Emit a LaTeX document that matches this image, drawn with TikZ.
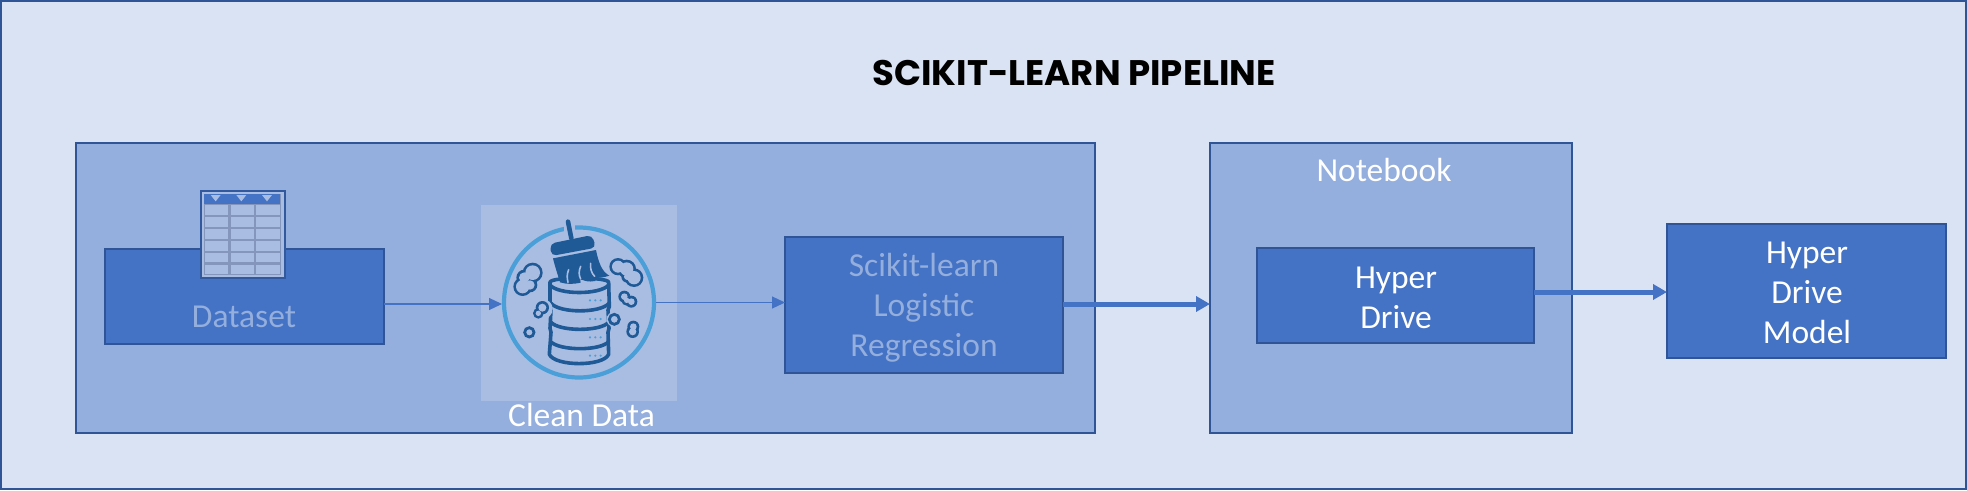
\documentclass[tikz,border=0pt]{standalone}
\usepackage{fontspec}
\setmainfont{Carlito}
\newfontfamily\titlefont{Poppins}
\usetikzlibrary{arrows.meta}
\definecolor{pagebg}{HTML}{DAE3F3}
\definecolor{panel}{HTML}{94AEDD}
\definecolor{boxfill}{HTML}{4472C4}
\definecolor{edge}{HTML}{2F5597}
\definecolor{dimtext}{HTML}{94AEDD}
\definecolor{lightsq}{HTML}{A9BDE2}
\definecolor{icondark}{HTML}{1F5A96}
\definecolor{iconring}{HTML}{4A9FD8}
\definecolor{gridline}{HTML}{8496BC}
\tikzset{
  x=1pt,y=-1pt,
  frame/.style={draw=edge,line width=2pt,fill=panel,inner sep=0pt,outer sep=0pt},
  bluebox/.style={draw=edge,line width=2pt,fill=boxfill,inner sep=0pt,outer sep=0pt},
  boxtext/.style={inner sep=0pt,align=center,font=\fontsize{33.5}{40}\selectfont},
  caption/.style={inner sep=0pt,font=\fontsize{33.5}{40}\selectfont,anchor=base},
  thinarrow/.style={draw=boxfill,line width=1.2pt,-{Triangle[length=13pt,width=12pt]}},
  thickarrow/.style={draw=boxfill,line width=5pt,-{Triangle[length=14pt,width=15pt]}},
  dbstroke/.style={draw=icondark,line width=3.6pt,line cap=round,line join=round},
}
% a bumpy dirt cloud: dark discs, then light discs on top, one list of x/y/r
\newcommand{\dirtcloud}[1]{%
  \foreach \cx/\cy/\cr in {#1}{\fill[icondark] (\cx,\cy) circle[radius=\cr+8];}%
  \foreach \cx/\cy/\cr in {#1}{\fill[lightsq] (\cx,\cy) circle[radius=\cr];}%
}
\begin{document}
\begin{tikzpicture}
\useasboundingbox (0,0) rectangle (1967,490);
\node[draw=edge,line width=2.5pt,fill=pagebg,minimum width=1965pt,minimum height=488pt,inner sep=0pt,outer sep=0pt,anchor=north west] (page) at (1,1) {};
\node[inner sep=0pt,font=\titlefont\bfseries\fontsize{35.5}{40}\selectfont,text=black] (title) at (1074,73) {SCIKIT-LEARN PIPELINE};

% panels
\node[frame,anchor=north west,minimum width=1019pt,minimum height=290pt] (panelA) at (76,142.5) {};
\node[frame,anchor=north west,minimum width=362pt,minimum height=290pt] (panelB) at (1210,142.5) {};
\node[caption,text=white] (nbtext) at (1384,181) {Notebook};

% boxes
\node[bluebox,minimum width=279pt,minimum height=95pt] (dataset) at (244.5,296) {};
\node[caption,text=dimtext] (dstext) at (244,327) {Dataset};
\node[fill=lightsq,inner sep=0pt,outer sep=0pt,minimum width=196pt,minimum height=196pt] (cleansq) at (579,303) {};
\node[caption,text=white] (cleantext) at (581.5,426) {Clean Data};
\node[bluebox,minimum width=278pt,minimum height=136pt] (logreg) at (924,305) {};
\node[boxtext,text=dimtext] (logtext) at (924,308) {Scikit-learn\\Logistic\\Regression};
\node[bluebox,minimum width=277pt,minimum height=95pt] (hd) at (1395.5,295.5) {};
\node[boxtext,text=white] (hdtext) at (1396,298) {Hyper\\Drive};
\node[bluebox,minimum width=279pt,minimum height=134pt] (hdm) at (1806.5,291) {};
\node[boxtext,text=white] (hdmtext) at (1807,293) {Hyper\\Drive\\Model};

% table icon
\begin{scope}[shift={(80,170)},scale=1/3]
  \fill[edge!85!boxfill] (360,60) rectangle (618,326);
  \fill[lightsq] (366,67) rectangle (612,320);
  \fill[gridline] (372,72) rectangle (604,316);
  \fill[boxfill] (372,72) rectangle (601,103);
  \foreach \cx in {372,450,527}{
    \foreach \cy in {105,140,176,212,247,283}{
      \fill[lightsq] (\cx+2,\cy+1) rectangle (\cx+72,\cy+30);
    }
  }
  \foreach \tx in {407,484,561}{
    \fill[lightsq] (\tx-15,75) -- (\tx+15,75) -- (\tx,94) -- cycle;
  }
\end{scope}

% clean data icon
\node[draw=iconring,line width=4.2pt,circle,minimum size=150pt,inner sep=0pt,outer sep=2pt] (ring) at (579,302.5) {};
\begin{scope}[shift={(470,195)},scale=1/3]
  % gap of the ring around the broom handle
  \fill[lightsq] (281,85) rectangle (315,115);
  % dirt clouds behind the database
  \dirtcloud{188/233/22,163/248/16,158/275/20,180/270/14}
  \dirtcloud{444/215/18,470/222/20,492/248/20,472/245/10}
  \dirtcloud{463/305/10,484/320/10,470/316/8}
  \dirtcloud{490/395/10,488/410/11}
  % database
  \draw[dbstroke,fill=lightsq] (240,262) .. controls (240,245) and (415,245) .. (416,262)
     -- (418,335) -- (414,345) -- (417,400) -- (414,412) -- (416,478)
     .. controls (400,515) and (255,515) .. (238,478) -- (243,412) -- (240,400) -- (243,345) -- (240,335) -- cycle;
  \draw[dbstroke] (240,270) .. controls (265,300) and (390,300) .. (416,270);
  \draw[dbstroke] (243,325) .. controls (270,355) and (390,355) .. (417,325);
  \draw[dbstroke] (243,382) .. controls (270,410) and (390,410) .. (416,382);
  \draw[dbstroke] (242,440) .. controls (270,468) and (390,468) .. (416,440);
  \foreach \dy in {316,372,427,482}{
    \foreach \dx in {360,376,392}{
      \fill[iconring] (\dx,\dy) circle[radius=3.6];
    }
  }
  % broom
  \draw[icondark,line width=4.6pt,line cap=round] (294,80) -- (304,130);
  \fill[icondark,rounded corners=5pt] (240,146) -- (366,120) -- (378,158) -- (244,183) -- cycle;
  \fill[icondark] (249,190) -- (378,165) .. controls (385,200) and (395,230) .. (418,242)
     .. controls (400,248) and (385,250) .. (372,245) -- (376,258) .. controls (355,262) and (340,258) .. (330,250)
     -- (332,263) .. controls (310,268) and (290,268) .. (270,262) .. controls (262,235) and (255,215) .. (249,190) -- cycle;
  \draw[lightsq,line width=1.6pt,line cap=round] (296,224) .. controls (290,238) and (291,250) .. (294,262);
  \draw[lightsq,line width=1.6pt,line cap=round] (332,214) .. controls (326,228) and (326,240) .. (332,252);
  \draw[lightsq,line width=1.6pt,line cap=round] (362,205) .. controls (360,220) and (364,234) .. (374,244);
  % dirt in front of the database
  \fill[lightsq] (218,342) circle[radius=30];
  \dirtcloud{217/338/12,205/355/8}
  \fill[lightsq] (433,373) circle[radius=23];
  \draw[draw=icondark,line width=2.8pt,fill=lightsq] (433,373) circle[radius=15];
  \draw[draw=icondark,line width=2.8pt,fill=lightsq] (178,412) circle[radius=14];
\end{scope}

% connectors
\draw[thinarrow] (dataset.east |- 0,304) -- (ring.west |- 0,304);
\draw[thinarrow] (ring.east) -- (logreg.west |- ring.east);
\draw[thickarrow] (logreg.east |- 0,304) -- (panelB.west |- 0,304);
\draw[thickarrow] (hd.east |- 0,292) -- (hdm.west |- 0,292);
\end{tikzpicture}
\end{document}
